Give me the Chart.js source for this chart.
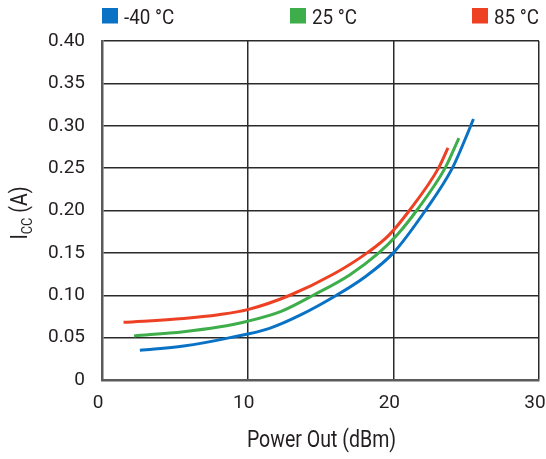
<!DOCTYPE html>
<html>
<head>
<meta charset="utf-8">
<script src="https://cdn.jsdelivr.net/npm/chart.js@4.4.1/dist/chart.umd.min.js"></script>
<style>
  html, body { margin: 0; padding: 0; background: #ffffff; }
  #wrap { width: 546px; height: 459px; position: relative; }
</style>
</head>
<body>
<div id="wrap"><canvas id="c" width="546" height="459"></canvas></div>
<script>
// ---- data ----
const seriesLabels = ['-40 °C', '25 °C', '85 °C'];
const seriesColors = ['#0a72c4', '#3dae4a', '#ee4124'];

const coldX = [2.6, 5.6, 8.8, 11.5, 13.6, 16.1, 18.0, 20, 22.2, 24.05, 25.0, 25.5];
const coldY = [0.035, 0.040, 0.050, 0.061, 0.0765, 0.100, 0.121, 0.150, 0.200, 0.250, 0.287, 0.308];

const roomX = [2.2, 5.6, 8.0, 10, 12.3, 14.5, 17.0, 19.0, 20.3, 21.6, 23.55, 24.5];
const roomY = [0.052, 0.057, 0.0625, 0.0694, 0.081, 0.100, 0.124, 0.150, 0.172, 0.200, 0.250, 0.2855];

const hotX = [1.48, 5.6, 8.0, 10, 12.9, 15.9, 18.2, 19.7, 21.1, 23.1, 23.75];
const hotY = [0.068, 0.0726, 0.077, 0.083, 0.100, 0.125, 0.150, 0.171, 0.200, 0.250, 0.274];

const xTicks = [0, 10, 20, 30];
const yTicks = [0, 0.05, 0.10, 0.15, 0.20, 0.25, 0.30, 0.35, 0.40];

const xTitle = 'Power Out (dBm)';
const yTitleMain = 'I';
const yTitleSub = 'CC';
const yTitleRest = ' (A)';

// ---- build datasets ----
function pts(xs, ys) { return xs.map((x, i) => ({ x: x, y: ys[i] })); }
const seriesData = [pts(coldX, coldY), pts(roomX, roomY), pts(hotX, hotY)];

const TEXT = '#231f20';
const FONT = 'Roboto, "Liberation Sans", sans-serif';

const datasets = seriesData.map((d, i) => ({
  label: seriesLabels[i],
  data: d,
  borderColor: seriesColors[i],
  backgroundColor: seriesColors[i],
  borderWidth: 3,
  pointRadius: 0,
  fill: false,
  cubicInterpolationMode: 'monotone',
  borderCapStyle: 'butt'
}));

const decorPlugin = {
  id: 'decor',
  afterDraw(chart) {
    const ctx = chart.ctx;
    const area = chart.chartArea;
    ctx.save();
    // legend
    const legendX = [102, 290, 472];
    chart.data.datasets.forEach((ds, i) => {
      ctx.fillStyle = ds.borderColor;
      ctx.fillRect(legendX[i], 8, 16, 15.5);
      ctx.fillStyle = TEXT;
      ctx.font = '20px ' + FONT;
      ctx.textBaseline = 'alphabetic';
      ctx.textAlign = 'left';
      ctx.save();
      ctx.translate(legendX[i] + 22, 24);
      ctx.scale(0.94, 1);
      ctx.fillText(ds.label, 0, 0);
      ctx.restore();
    });
    // x title
    ctx.save();
    ctx.fillStyle = TEXT;
    ctx.font = '23px ' + FONT;
    ctx.textAlign = 'center';
    ctx.textBaseline = 'alphabetic';
    ctx.translate((area.left + area.right) / 2 + 1, 447);
    ctx.scale(0.85, 1);
    ctx.fillText(xTitle, 0, 0);
    ctx.restore();
    // y title (rotated, with subscript)
    ctx.save();
    ctx.fillStyle = TEXT;
    ctx.textBaseline = 'alphabetic';
    ctx.textAlign = 'left';
    ctx.translate(27, 213);
    ctx.rotate(-Math.PI / 2);
    ctx.scale(0.85, 1);
    const fMain = '23px ' + FONT, fSub = '15px ' + FONT;
    ctx.font = fMain; const w1 = ctx.measureText(yTitleMain).width;
    const w3 = ctx.measureText(yTitleRest).width;
    ctx.font = fSub; const w2 = ctx.measureText(yTitleSub).width;
    let x0 = -(w1 + w2 + w3) / 2;
    ctx.font = fMain; ctx.fillText(yTitleMain, x0, 0);
    ctx.font = fSub; ctx.fillText(yTitleSub, x0 + w1, 5);
    ctx.font = fMain; ctx.fillText(yTitleRest, x0 + w1 + w2, 0);
    ctx.restore();
    ctx.restore();
  }
};

new Chart(document.getElementById('c'), {
  type: 'line',
  data: { datasets: datasets },
  options: {
    responsive: false,
    animation: false,
    events: [],
    layout: { padding: { left: 0, right: 7, top: 41, bottom: 0 } },
    plugins: { legend: { display: false }, tooltip: { enabled: false }, title: { display: false } },
    scales: {
      x: {
        type: 'linear',
        min: 0, max: 30,
        afterBuildTicks(scale) { scale.ticks = xTicks.map(v => ({ value: v })); },
        afterFit(scale) { scale.height = 79; scale.paddingLeft = 0; scale.paddingRight = 0; },
        ticks: { color: TEXT, font: { family: FONT, size: 19 }, padding: 12, labelOffset: -4, maxRotation: 0 },
        grid: {
          color: ctx => ctx.tick && ctx.tick.value === 0 ? 'rgba(0,0,0,0)' : '#2a2a2a',
          lineWidth: 1.5,
          drawTicks: false
        },
        border: { display: true, color: '#5a5a5a', width: 2.5 }
      },
      y: {
        type: 'linear',
        min: 0, max: 0.4,
        afterBuildTicks(scale) { scale.ticks = yTicks.map(v => ({ value: v })); },
        afterFit(scale) { scale.width = 102; scale.paddingTop = 0; scale.paddingBottom = 0; },
        ticks: {
          color: TEXT, font: { family: FONT, size: 19 }, padding: 17,
          callback: v => v === 0 ? '0' : v.toFixed(2)
        },
        grid: {
          color: ctx => ctx.tick && ctx.tick.value === 0 ? 'rgba(0,0,0,0)' : '#2a2a2a',
          lineWidth: 1.5,
          drawTicks: false
        },
        border: { display: true, color: '#5a5a5a', width: 2.5 }
      }
    }
  },
  plugins: [decorPlugin]
});
</script>
</body>
</html>
